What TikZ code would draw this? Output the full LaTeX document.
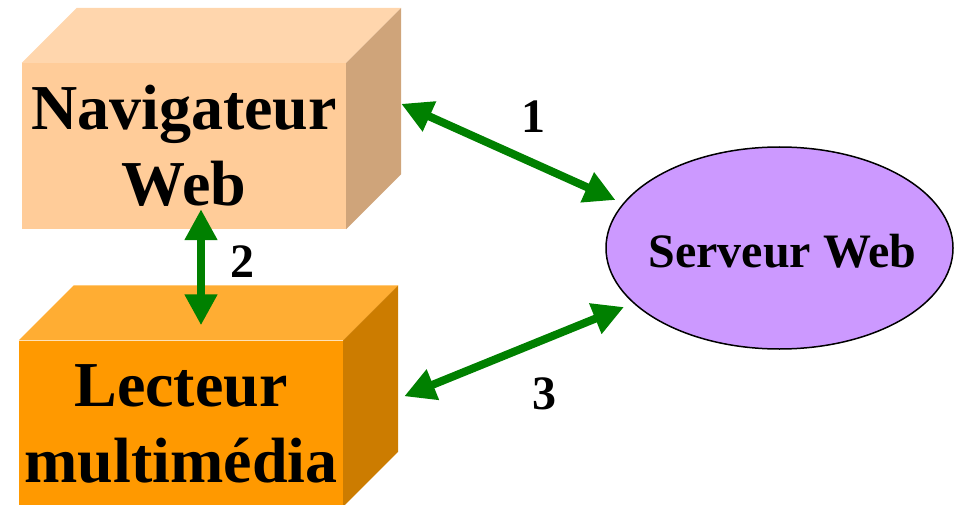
\documentclass[tikz,border=0pt]{standalone}
\usepackage{fontspec}
\setmainfont{Liberation Serif}
\usetikzlibrary{arrows.meta,shapes.geometric,calc}
\definecolor{navfront}{HTML}{FFCC99}
\definecolor{navtop}{HTML}{FFD6AD}
\definecolor{navside}{HTML}{CFA47A}
\definecolor{lecfront}{HTML}{FF9900}
\definecolor{lectop}{HTML}{FFAD33}
\definecolor{lecside}{HTML}{CC7C00}
\definecolor{srvfill}{HTML}{CC99FF}
\definecolor{arrgreen}{HTML}{008000}
\begin{document}
\begin{tikzpicture}[x=1pt,y=-1pt,
  boxfront/.style={draw=none,inner sep=0pt,minimum width=324pt,minimum height=166pt,align=center,font=\fontsize{64}{76}\selectfont\bfseries},
  conn/.style={draw=arrgreen,line width=8pt,{Triangle[length=31pt,width=31pt]}-{Triangle[length=31pt,width=31pt]}},
  numlbl/.style={font=\fontsize{48}{48}\selectfont\bfseries,anchor=base,inner sep=0pt},
  srvshape/.style={ellipse,draw=black,line width=1.5pt,fill=srvfill,minimum width=347pt,minimum height=202pt,inner sep=0pt}]
\useasboundingbox (0,0) rectangle (955,505);
\clip (0,0) rectangle (955,505);
% Navigateur Web box
\node[boxfront,fill=navfront] (nav) at (184,146) {Navigateur\\Web};
\fill[navtop] (nav.north west) -- ++(55,-55) -- ($(nav.north east)+(55,-55)$) -- (nav.north east) -- cycle;
\fill[navside] (nav.north east) -- ++(55,-55) -- ($(nav.south east)+(55,-55)$) -- (nav.south east) -- cycle;
% Lecteur multimedia box
\node[boxfront,fill=lecfront] (lec) at (181,423.5) {Lecteur\\multimédia};
\fill[lectop] (lec.north west) -- ++(55,-55) -- ($(lec.north east)+(55,-55)$) -- (lec.north east) -- cycle;
\fill[lecside] (lec.north east) -- ++(55,-55) -- ($(lec.south east)+(55,-55)$) -- (lec.south east) -- cycle;
% Server
\node[srvshape] (srv) at (779.5,248) {};
\node[font=\fontsize{48}{48}\selectfont\bfseries,inner sep=0pt] (srvtxt) at (782.5,251) {Serveur Web};
% Connectors
\draw[conn] ($(nav.north east)+(55,41)$) -- ($(srv.center)+(-164,-48)$);
\draw[conn] ($(nav.south)+(17,-20)$) -- ($(lec.north)+(20,-15)$);
\draw[conn] ($(srv.center)+(-155.5,59)$) -- ($(lec.north east)+(61,56)$);
% Labels
\node[numlbl] (l1) at (533,133) {1};
\node[numlbl] (l2) at (242,277) {2};
\node[numlbl] (l3) at (544,409) {3};
\end{tikzpicture}
\end{document}
